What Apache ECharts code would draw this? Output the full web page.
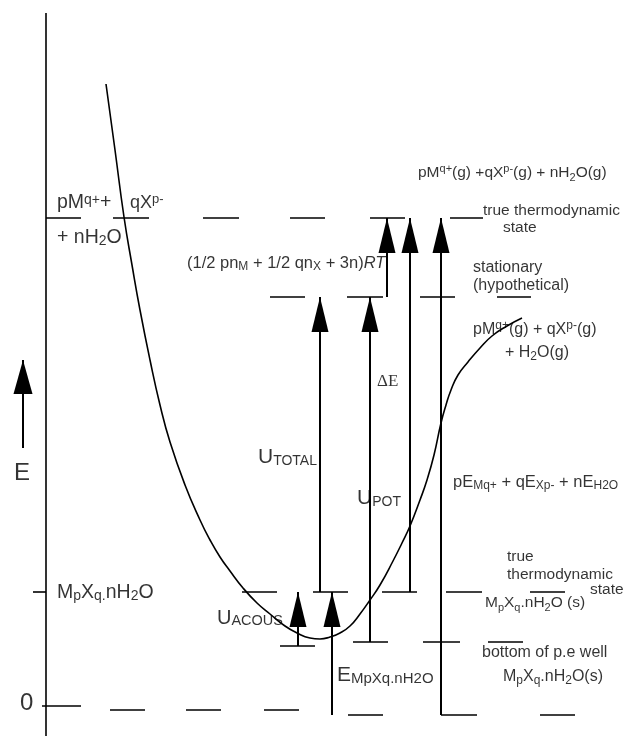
<!DOCTYPE html>
<html><head><meta charset="utf-8">
<script src="https://cdn.jsdelivr.net/npm/echarts@6/dist/echarts.min.js"></script>
<style>html,body{margin:0;padding:0;background:#fff}#c{width:623px;height:736px}</style>
</head><body><div id="c"></div>
<script>
// ---- energy levels (arbitrary energy units, 0 = reference) ----
const E_GAS = 492, E_STAT = 413, E_SOLID = 118, E_WELL = 68, E_ACOUS0 = 64, E_ZERO = 0, E_ZERO_R = -5, E_ZERO_TICK = 4;
// dashed level pieces (configuration-coordinate extents)
const gasLevelX = [[46,81],[113,149],[203,239],[290,325],[370,405],[450,483]];
const statLevelX = [[270,305],[347,383],[420,455],[497,531]];
const solidLevelX = [[33,46],[242,277],[313,348],[382,417],[446,482],[530,565]];
const wellLevelX = [[353,388],[423,460],[488,523]];
const acousBaseX = [[280,315]];
const zeroTickX = [[42,81]];
const zeroLevelX = [[110,145],[186,221],[264,299]];
const zeroRightX = [[348,383],[441,477],[540,575]];
// potential-energy curve
const curveX = [106,115,124,132,140,150,160,170,185,200,210,220,230,243,257,270,285,297,310,320,330,340,350,360,370,380,393,402,410,420,427,434,441,446,451,458,468,480,492,507,522];
const curveE = [626,560,493,445,400,350,305,268,225,190,170,153,139,122,107,96,84,77,72,71,73,77,84,96,110,125,149,167,184,210,230,255,287,305,320,335,348,362,374,384,392];
// transitions [x, from, to]
const arrows = [[298,E_ACOUS0,E_SOLID],[332,E_ZERO_R,E_SOLID],[320,E_SOLID,E_STAT],[370,E_WELL,E_STAT],
                [387,E_STAT,E_GAS],[410,E_SOLID,E_GAS],[441,E_ZERO_R,E_GAS]];
const eAxisArrow = [23,262,350];
const energyAxis = [46,697,-26];

const F = 'Liberation Sans, Arial, sans-serif';
function mk(fs){
  const sub = Math.round(fs*0.72);
  return {
    sup:{fontSize:sub,verticalAlign:'top',lineHeight:10,fontFamily:F,color:'#000'},
    sub:{fontSize:sub,verticalAlign:'bottom',lineHeight:10,fontFamily:F,color:'#000'},
    it:{fontSize:fs,fontStyle:'italic',fontFamily:F,color:'#000'},
    U:{fontSize:21,lineHeight:22,verticalAlign:'bottom',fontFamily:F,color:'#000'},
    Us:{fontSize:14,lineHeight:12,verticalAlign:'bottom',fontFamily:F,color:'#000'},
    Ua:{fontSize:20,lineHeight:21,verticalAlign:'bottom',fontFamily:F,color:'#000'},
    Uas:{fontSize:14.5,lineHeight:12,verticalAlign:'bottom',fontFamily:F,color:'#000'},
    Es:{fontSize:15,lineHeight:10,verticalAlign:'bottom',fontFamily:F,color:'#000'},
    big:{fontSize:24,fontFamily:F,color:'#000'},
    serif:{fontSize:17,fontFamily:'Liberation Serif, Times New Roman, serif',color:'#000'}
  };
}
// [x, E, text, fontSize]
const labels = [
  [57,507,'pM{sup|q+}+',19.5],
  [130,507,'qX{sup|p-}',18],
  [57,472,'+ nH{sub|2}O',19.5],
  [187,447,'(1/2 pn{sub|M} + 1/2 qn{sub|X} + 3n){it|RT}',16.5],
  [418,537,'pM{sup|q+}(g) +qX{sup|p-}(g) + nH{sub|2}O(g)',15.5],
  [483,499,'true thermodynamic',15.5],
  [503,482,'state',15.5],
  [473,442,'stationary',16],
  [473,424,'(hypothetical)',16],
  [473,380,'pM{sup|q+}(g) + qX{sup|p-}(g)',16],
  [505,357,'+ H{sub|2}O(g)',16],
  [377,328,'{serif|ΔE}',16],
  [258,253,'{U|U}{Us|TOTAL}',16],
  [357,212,'{U|U}{Us|POT}',16],
  [453,228,'pE{sub|Mq+} + qE{sub|Xp-} + nE{sub|H2O}',16.5],
  [507,153,'true',15.5],
  [507,135,'thermodynamic',15.5],
  [590,120,'state',15.5],
  [485,107,'M{sub|p}X{sub|q}.nH{sub|2}O (s)',15.5],
  [482,57,'bottom of p.e well',16],
  [503,33,'M{sub|p}X{sub|q}.nH{sub|2}O(s)',16],
  [337,35,'{U|E}{Es|MpXq.nH2O}',16],
  [217,92,'{Ua|U}{Uas|ACOUS}',16],
  [57,117,'M{sub|p}X{sub|q.}nH{sub|2}O',19.5],
  [20,7,'{big|0}',16],
  [14,237,'{big|E}',16]
];

const series = [];
function segs(list, e, w){
  list.forEach(s => series.push({type:'line', data:[[s[0],e],[s[1],e]], symbol:'none',
    lineStyle:{color:'#000', width:w||1.6}, silent:true, animation:false}));
}
segs(gasLevelX,E_GAS); segs(statLevelX,E_STAT); segs(solidLevelX,E_SOLID);
segs(wellLevelX,E_WELL); segs(acousBaseX,E_ACOUS0); segs(zeroTickX,E_ZERO_TICK);
segs(zeroLevelX,E_ZERO); segs(zeroRightX,E_ZERO_R);
series.push({type:'line', data:[[energyAxis[0],energyAxis[1]],[energyAxis[0],energyAxis[2]]], symbol:'none',
  lineStyle:{color:'#000',width:1.6}, silent:true, animation:false});
series.push({type:'line', data:curveX.map((x,i)=>[x,curveE[i]]), symbol:'none', smooth:0.5,
  lineStyle:{color:'#000',width:1.6}, silent:true, animation:false});
function arrow(x,e0,e1,w,h){
  series.push({type:'line', symbol:'none', showSymbol:true, animation:false, silent:true,
    data:[[x,e0],{value:[x,e1],symbol:'triangle',symbolSize:[w,h],symbolOffset:[0,h/2]}],
    itemStyle:{color:'#000'}, lineStyle:{color:'#000',width:2}});
}
arrows.forEach(a => arrow(a[0],a[1],a[2],17,35));
arrow(eAxisArrow[0],eAxisArrow[1],eAxisArrow[2],19,34);
series.push({type:'scatter', symbolSize:1, itemStyle:{color:'rgba(0,0,0,0)'}, animation:false, silent:true,
  data: labels.map(l => ({value:[l[0],l[1]], label:{show:true, position:'inside', align:'left', verticalAlign:'middle',
    formatter:l[2], rich:mk(l[3]), fontSize:l[3], lineHeight:20, fontFamily:F, color:'#000'}}))});

const chart = echarts.init(document.getElementById('c'), null, {renderer:'canvas'});
chart.setOption({
  backgroundColor:'#fff', animation:false,
  grid:{left:0,right:0,top:0,bottom:0},
  xAxis:{type:'value',min:0,max:623,show:false},
  yAxis:{type:'value',min:-26,max:710,show:false},
  series:series
});
</script></body></html>
